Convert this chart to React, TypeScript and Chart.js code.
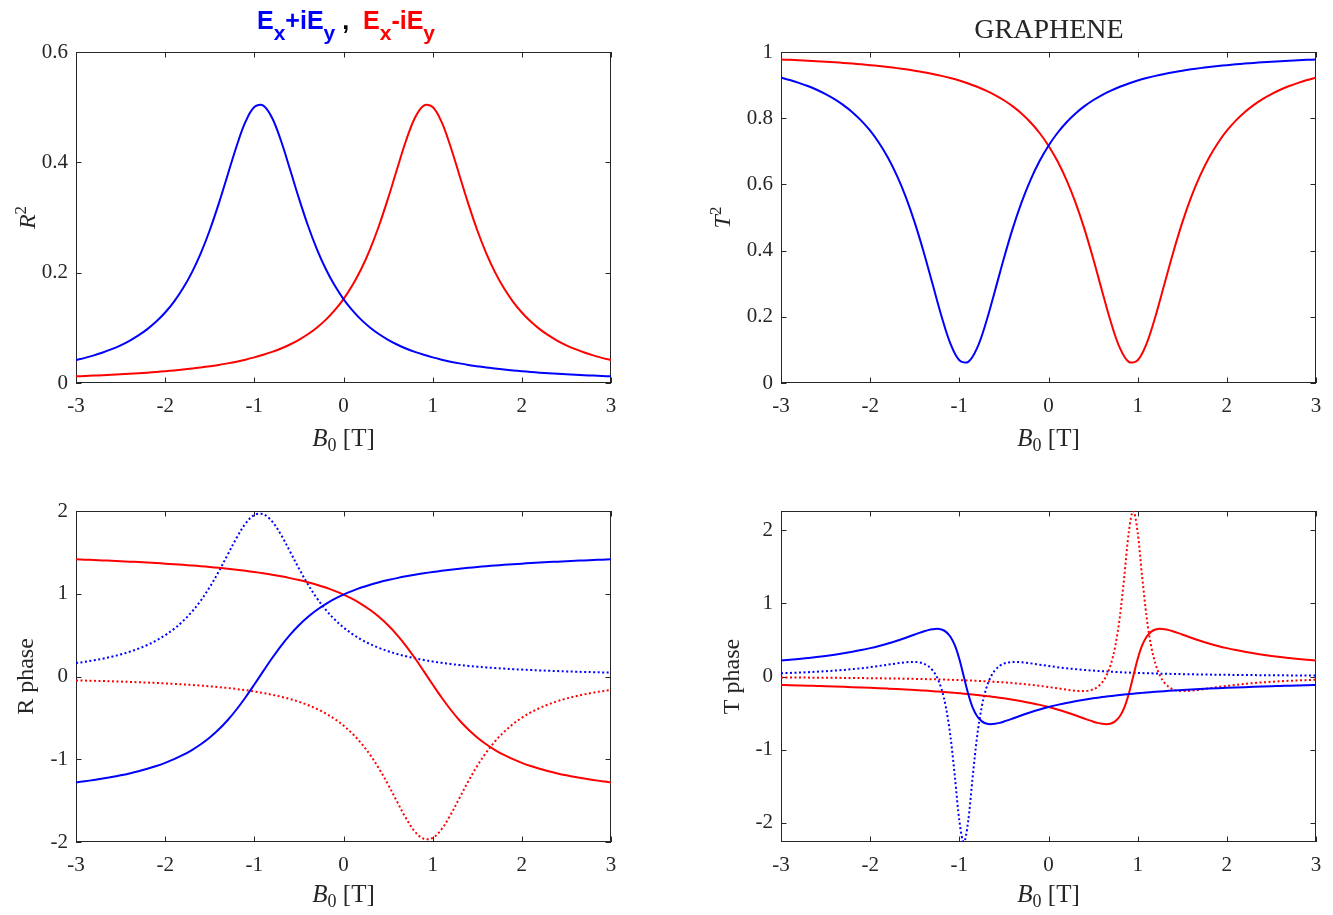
import { useEffect, useRef } from "react"
import { Chart, registerables } from "chart.js"

Chart.register(...registerables)

const BLUE = "#0000ff"
const RED = "#ff0000"
const AXIS = "#262626"
const SERIF = '"Liberation Serif", "Times New Roman", serif'
const SANS = '"Liberation Sans", Arial, sans-serif'
const TICK_LEN = 5.5

// B0 sample grid for the smooth panels
const B_GRID = [
  -3.0, -2.9, -2.8, -2.7, -2.6, -2.5, -2.4, -2.3, -2.2, -2.1,
  -2.0, -1.9, -1.8, -1.7, -1.6, -1.5, -1.4, -1.3, -1.2, -1.1,
  -1.0, -0.9, -0.8, -0.7, -0.6, -0.5, -0.4, -0.3, -0.2, -0.1,
  0.0,
  0.1, 0.2, 0.3, 0.4, 0.5, 0.6, 0.7, 0.8, 0.9, 1.0,
  1.1, 1.2, 1.3, 1.4, 1.5, 1.6, 1.7, 1.8, 1.9, 2.0,
  2.1, 2.2, 2.3, 2.4, 2.5, 2.6, 2.7, 2.8, 2.9, 3.0,
]

// R^2, Ex+iEy (blue) and Ex-iEy (red)
const R2_PLUS = [
  0.0416, 0.0456, 0.0500, 0.0553, 0.0613, 0.0683, 0.0765, 0.0862, 0.0977, 0.1114,
  0.1278, 0.1476, 0.1716, 0.2006, 0.2355, 0.2769, 0.3246, 0.3767, 0.4288, 0.4732,
  0.5003, 0.5029, 0.4803, 0.4386, 0.3874, 0.3348, 0.2859, 0.2433, 0.2071, 0.1770,
  0.1521,
  0.1315, 0.1144, 0.1002, 0.0883, 0.0783, 0.0698, 0.0626, 0.0564, 0.0511, 0.0464,
  0.0423, 0.0387, 0.0356, 0.0328, 0.0304, 0.0281, 0.0262, 0.0244, 0.0228, 0.0213,
  0.0200, 0.0188, 0.0177, 0.0167, 0.0158, 0.0149, 0.0141, 0.0134, 0.0127, 0.0121,
]
const R2_MINUS = [
  0.0121, 0.0127, 0.0134, 0.0141, 0.0149, 0.0158, 0.0167, 0.0177, 0.0188, 0.0200,
  0.0213, 0.0228, 0.0244, 0.0262, 0.0281, 0.0304, 0.0328, 0.0356, 0.0387, 0.0423,
  0.0464, 0.0511, 0.0564, 0.0626, 0.0698, 0.0783, 0.0883, 0.1002, 0.1144, 0.1315,
  0.1521,
  0.1770, 0.2071, 0.2433, 0.2859, 0.3348, 0.3874, 0.4386, 0.4803, 0.5029, 0.5003,
  0.4732, 0.4288, 0.3767, 0.3246, 0.2769, 0.2355, 0.2006, 0.1716, 0.1476, 0.1278,
  0.1114, 0.0977, 0.0862, 0.0765, 0.0683, 0.0613, 0.0553, 0.0500, 0.0456, 0.0416,
]

// T^2
const T2_PLUS = [
  0.9226, 0.9152, 0.9068, 0.8972, 0.8859, 0.8728, 0.8576, 0.8395, 0.8182, 0.7927,
  0.7622, 0.7252, 0.6806, 0.6265, 0.5616, 0.4846, 0.3959, 0.2988, 0.2018, 0.1192,
  0.0688, 0.0639, 0.1061, 0.1835, 0.2789, 0.3769, 0.4678, 0.5472, 0.6145, 0.6706,
  0.7170,
  0.7553, 0.7871, 0.8135, 0.8356, 0.8542, 0.8700, 0.8834, 0.8950, 0.9050, 0.9137,
  0.9212, 0.9279, 0.9337, 0.9389, 0.9435, 0.9476, 0.9513, 0.9546, 0.9576, 0.9603,
  0.9628, 0.9650, 0.9671, 0.9690, 0.9707, 0.9723, 0.9738, 0.9751, 0.9763, 0.9774,
]
const T2_MINUS = [
  0.9774, 0.9763, 0.9751, 0.9738, 0.9723, 0.9707, 0.9690, 0.9671, 0.9650, 0.9628,
  0.9603, 0.9576, 0.9546, 0.9513, 0.9476, 0.9435, 0.9389, 0.9337, 0.9279, 0.9212,
  0.9137, 0.9050, 0.8950, 0.8834, 0.8700, 0.8542, 0.8356, 0.8135, 0.7871, 0.7553,
  0.7170,
  0.6706, 0.6145, 0.5472, 0.4678, 0.3769, 0.2789, 0.1835, 0.1061, 0.0639, 0.0688,
  0.1192, 0.2018, 0.2988, 0.3959, 0.4846, 0.5616, 0.6265, 0.6806, 0.7252, 0.7622,
  0.7927, 0.8182, 0.8395, 0.8576, 0.8728, 0.8859, 0.8972, 0.9068, 0.9152, 0.9226,
]

// R phase: solid and dotted
const RPH_PLUS = [
  -1.2799, -1.2657, -1.2504, -1.2336, -1.2151, -1.1943, -1.1712, -1.1451, -1.1154, -1.0820,
  -1.0434, -0.9994, -0.9484, -0.8885, -0.8191, -0.7370, -0.6406, -0.5288, -0.3988, -0.2537,
  -0.0969, 0.0647, 0.2231, 0.3714, 0.5035, 0.6193, 0.7190, 0.8037, 0.8758, 0.9378,
  0.9896,
  1.0352, 1.0750, 1.1094, 1.1391, 1.1654, 1.1890, 1.2106, 1.2300, 1.2472, 1.2628,
  1.2771, 1.2902, 1.3020, 1.3130, 1.3231, 1.3325, 1.3412, 1.3493, 1.3568, 1.3639,
  1.3705, 1.3768, 1.3826, 1.3882, 1.3933, 1.3982, 1.4029, 1.4073, 1.4115, 1.4155,
]
const RPH_MINUS = [
  1.4155, 1.4115, 1.4073, 1.4029, 1.3982, 1.3933, 1.3882, 1.3826, 1.3768, 1.3705,
  1.3639, 1.3568, 1.3493, 1.3412, 1.3325, 1.3231, 1.3130, 1.3020, 1.2902, 1.2771,
  1.2628, 1.2472, 1.2300, 1.2106, 1.1890, 1.1654, 1.1391, 1.1094, 1.0750, 1.0352,
  0.9896,
  0.9378, 0.8758, 0.8037, 0.7190, 0.6193, 0.5035, 0.3714, 0.2231, 0.0647, -0.0969,
  -0.2537, -0.3988, -0.5288, -0.6406, -0.7370, -0.8191, -0.8885, -0.9484, -0.9994, -1.0434,
  -1.0820, -1.1154, -1.1451, -1.1712, -1.1943, -1.2151, -1.2336, -1.2504, -1.2657, -1.2799,
]
const RPH_PLUS_DOT = [
  0.1621, 0.1777, 0.1952, 0.2155, 0.2392, 0.2665, 0.2985, 0.3363, 0.3810, 0.4344,
  0.4984, 0.5758, 0.6694, 0.7827, 0.9188, 1.0802, 1.2661, 1.4696, 1.6729, 1.8459,
  1.9515, 1.9617, 1.8735, 1.7111, 1.5112, 1.3059, 1.1154, 0.9489, 0.8079, 0.6903,
  0.5932,
  0.5128, 0.4462, 0.3908, 0.3446, 0.3055, 0.2725, 0.2443, 0.2200, 0.1992, 0.1808,
  0.1651, 0.1511, 0.1389, 0.1281, 0.1184, 0.1097, 0.1020, 0.0952, 0.0888, 0.0831,
  0.0780, 0.0733, 0.0690, 0.0650, 0.0615, 0.0581, 0.0550, 0.0522, 0.0496, 0.0473,
]
const RPH_MINUS_DOT = [
  -0.0473, -0.0496, -0.0522, -0.0550, -0.0581, -0.0615, -0.0650, -0.0690, -0.0733, -0.0780,
  -0.0831, -0.0888, -0.0952, -0.1020, -0.1097, -0.1184, -0.1281, -0.1389, -0.1511, -0.1651,
  -0.1808, -0.1992, -0.2200, -0.2443, -0.2725, -0.3055, -0.3446, -0.3908, -0.4462, -0.5128,
  -0.5932,
  -0.6903, -0.8079, -0.9489, -1.1154, -1.3059, -1.5112, -1.7111, -1.8735, -1.9617, -1.9515,
  -1.8459, -1.6729, -1.4696, -1.2661, -1.0802, -0.9188, -0.7827, -0.6694, -0.5758, -0.4984,
  -0.4344, -0.3810, -0.3363, -0.2985, -0.2665, -0.2392, -0.2155, -0.1952, -0.1777, -0.1621,
]

// finer B0 grid for the T phase panel (sharp features near +-0.95 T)
const B_FINE = [
  -3.0, -2.9, -2.8, -2.7, -2.6, -2.5, -2.4, -2.3, -2.2, -2.1, -2.0, -1.9, -1.8, -1.7, -1.6, -1.5,
  -1.45, -1.4, -1.35, -1.3, -1.25, -1.2, -1.15, -1.1, -1.05, -1.0, -0.95, -0.9, -0.85, -0.8,
  -0.75, -0.7, -0.65, -0.6, -0.55, -0.5, -0.45,
  -0.4, -0.3, -0.2, -0.1, 0.0, 0.1, 0.2, 0.3, 0.4,
  0.45, 0.5, 0.55, 0.6, 0.65, 0.7, 0.75, 0.8, 0.85, 0.9, 0.95, 1.0, 1.05, 1.1,
  1.15, 1.2, 1.25, 1.3, 1.35, 1.4, 1.45,
  1.5, 1.6, 1.7, 1.8, 1.9, 2.0, 2.1, 2.2, 2.3, 2.4, 2.5, 2.6, 2.7, 2.8, 2.9, 3.0,
]

const TPH_PLUS = [
  0.2188, 0.2294, 0.2406, 0.2530, 0.2663, 0.2818, 0.2985, 0.3172, 0.3383, 0.3619, 0.3885, 0.4186, 0.4521, 0.4897, 0.5311, 0.5748,
  0.5964, 0.6169, 0.6350, 0.6476, 0.6520, 0.6427, 0.6108, 0.5436, 0.4246, 0.2390, 0.0000, -0.2390, -0.4246, -0.5436,
  -0.6108, -0.6427, -0.6520, -0.6476, -0.6350, -0.6169, -0.5964,
  -0.5748, -0.5311, -0.4897, -0.4521, -0.4186, -0.3885, -0.3619, -0.3383, -0.3172,
  -0.3076, -0.2985, -0.2903, -0.2818, -0.2740, -0.2663, -0.2598, -0.2530, -0.2465, -0.2406, -0.2348, -0.2294, -0.2241, -0.2188,
  -0.2140, -0.2093, -0.2049, -0.2006, -0.1965, -0.1926, -0.1889,
  -0.1852, -0.1783, -0.1718, -0.1659, -0.1603, -0.1550, -0.1501, -0.1455, -0.1411, -0.1370, -0.1331, -0.1296, -0.1260, -0.1228, -0.1197, -0.1167,
]
const TPH_MINUS = [
  -0.1167, -0.1197, -0.1228, -0.1260, -0.1296, -0.1331, -0.1370, -0.1411, -0.1455, -0.1501, -0.1550, -0.1603, -0.1659, -0.1718, -0.1783, -0.1852,
  -0.1889, -0.1926, -0.1965, -0.2006, -0.2049, -0.2093, -0.2140, -0.2188, -0.2241, -0.2294, -0.2348, -0.2406, -0.2465, -0.2530,
  -0.2598, -0.2663, -0.2740, -0.2818, -0.2903, -0.2985, -0.3076,
  -0.3172, -0.3383, -0.3619, -0.3885, -0.4186, -0.4521, -0.4897, -0.5311, -0.5748,
  -0.5964, -0.6169, -0.6350, -0.6476, -0.6520, -0.6427, -0.6108, -0.5436, -0.4246, -0.2390, 0.0000, 0.2390, 0.4246, 0.5436,
  0.6108, 0.6427, 0.6520, 0.6476, 0.6350, 0.6169, 0.5964,
  0.5748, 0.5311, 0.4897, 0.4521, 0.4186, 0.3885, 0.3619, 0.3383, 0.3172, 0.2985, 0.2818, 0.2663, 0.2530, 0.2406, 0.2294, 0.2188,
]
const TPH_PLUS_DOT = [
  0.0449, 0.0490, 0.0537, 0.0591, 0.0653, 0.0723, 0.0805, 0.0899, 0.1009, 0.1135, 0.1278, 0.1443, 0.1618, 0.1796, 0.1948, 0.1992,
  0.1928, 0.1762, 0.1434, 0.0854, -0.0118, -0.1705, -0.4241, -0.8159, -1.3691, -1.9734, -2.2650, -1.9734, -1.3691, -0.8159,
  -0.4241, -0.1705, -0.0118, 0.0854, 0.1434, 0.1762, 0.1928,
  0.1992, 0.1948, 0.1796, 0.1618, 0.1443, 0.1278, 0.1135, 0.1009, 0.0899,
  0.0850, 0.0805, 0.0763, 0.0723, 0.0687, 0.0653, 0.0621, 0.0591, 0.0563, 0.0537, 0.0513, 0.0490, 0.0469, 0.0449,
  0.0430, 0.0412, 0.0395, 0.0380, 0.0364, 0.0351, 0.0338,
  0.0325, 0.0301, 0.0281, 0.0262, 0.0245, 0.0230, 0.0216, 0.0203, 0.0191, 0.0180, 0.0171, 0.0161, 0.0153, 0.0145, 0.0138, 0.0131,
]
const TPH_MINUS_DOT = [
  -0.0131, -0.0138, -0.0145, -0.0153, -0.0161, -0.0171, -0.0180, -0.0191, -0.0203, -0.0216, -0.0230, -0.0245, -0.0262, -0.0281, -0.0301, -0.0325,
  -0.0338, -0.0351, -0.0364, -0.0380, -0.0395, -0.0412, -0.0430, -0.0449, -0.0469, -0.0490, -0.0513, -0.0537, -0.0563, -0.0591,
  -0.0621, -0.0653, -0.0687, -0.0723, -0.0763, -0.0805, -0.0850,
  -0.0899, -0.1009, -0.1135, -0.1278, -0.1443, -0.1618, -0.1796, -0.1948, -0.1992,
  -0.1928, -0.1762, -0.1434, -0.0854, 0.0118, 0.1705, 0.4241, 0.8159, 1.3691, 1.9734, 2.2650, 1.9734, 1.3691, 0.8159,
  0.4241, 0.1705, 0.0118, -0.0854, -0.1434, -0.1762, -0.1928,
  -0.1992, -0.1948, -0.1796, -0.1618, -0.1443, -0.1278, -0.1135, -0.1009, -0.0899, -0.0805, -0.0723, -0.0653, -0.0591, -0.0537, -0.0490, -0.0449,
]

type Seg = { text: string; italic?: boolean; bold?: boolean; small?: boolean; shift?: number; color?: string }
type RichText = { segs: Seg[]; x: number; y: number; size: number; subSize: number; family: string; rotate?: boolean }

function drawRich(ctx: CanvasRenderingContext2D, r: RichText) {
  ctx.save()
  ctx.translate(r.x, r.y)
  if (r.rotate) ctx.rotate(-Math.PI / 2)
  const fontOf = (s: Seg) =>
    `${s.italic ? "italic " : ""}${s.bold ? "bold " : ""}${s.small ? r.subSize : r.size}px ${r.family}`
  const widths = r.segs.map((s) => {
    ctx.font = fontOf(s)
    return ctx.measureText(s.text).width
  })
  let x = -widths.reduce((a, b) => a + b, 0) / 2
  ctx.textAlign = "left"
  ctx.textBaseline = "alphabetic"
  const base = r.size * 0.34
  r.segs.forEach((s, i) => {
    ctx.font = fontOf(s)
    ctx.fillStyle = s.color || AXIS
    ctx.fillText(s.text, x, base + (s.shift || 0))
    x += widths[i]
  })
  ctx.restore()
}

// box + inward ticks on all four sides (MATLAB style), and the rich-text labels
function makeFramePlugin(texts: RichText[]) {
  return {
    id: "matlabFrame",
    beforeDatasetsDraw(chart: any) {
      const { ctx, chartArea: a, scales } = chart
      ctx.save()
      ctx.strokeStyle = AXIS
      ctx.lineWidth = 1
      ctx.beginPath()
      scales.x.ticks.forEach((t: any) => {
        const px = Math.round(scales.x.getPixelForValue(t.value)) + 0.5
        ctx.moveTo(px, a.bottom)
        ctx.lineTo(px, a.bottom - TICK_LEN)
        ctx.moveTo(px, a.top)
        ctx.lineTo(px, a.top + TICK_LEN)
      })
      scales.y.ticks.forEach((t: any) => {
        const py = Math.round(scales.y.getPixelForValue(t.value)) + 0.5
        ctx.moveTo(a.left, py)
        ctx.lineTo(a.left + TICK_LEN, py)
        ctx.moveTo(a.right, py)
        ctx.lineTo(a.right - TICK_LEN, py)
      })
      ctx.stroke()
      ctx.strokeRect(a.left + 0.5, a.top + 0.5, a.right - a.left - 1, a.bottom - a.top - 1)
      ctx.restore()
    },
    afterDraw(chart: any) {
      texts.forEach((t) => drawRich(chart.ctx, t))
    },
  }
}

type Series = { values: number[]; color: string; dotted?: boolean }
type Box = { left: number; top: number; width: number; height: number }
type Area = { left: number; top: number; right: number; bottom: number }

interface PanelProps {
  box: Box
  plot: Area
  xs: number[]
  series: Series[]
  yMin: number
  yMax: number
  yStep: number
  monotone?: boolean
  texts: RichText[]
}

// MATLAB-like tick text: 0, 0.2, 1, -2 (no trailing zeros)
const tickText = (v: number | string) => String(Math.round(Number(v) * 100) / 100)

function Panel({ box, plot, xs, series, yMin, yMax, yStep, monotone, texts }: PanelProps) {
  const canvasRef = useRef<HTMLCanvasElement>(null)
  const chartInstance = useRef<Chart | null>(null)

  useEffect(() => {
    if (!canvasRef.current) return
    if (chartInstance.current) chartInstance.current.destroy()
    const ctx = canvasRef.current.getContext("2d")
    if (!ctx) return

    const yAxisW = plot.left - box.left
    const rightPad = box.left + box.width - plot.right
    const topPad = plot.top - box.top
    const xAxisH = box.top + box.height - plot.bottom
    const local = texts.map((t) => ({ ...t, x: t.x - box.left, y: t.y - box.top }))
    const tickFont = { family: SERIF, size: 21 }

    const chartConfig: any = {
      type: "line",
      data: {
        datasets: series.map((s) => ({
          data: xs.map((x, i) => ({ x, y: s.values[i] })),
          borderColor: s.color,
          borderWidth: 2,
          borderDash: s.dotted ? [2, 2.5] : [],
          pointRadius: 0,
          fill: false,
          tension: 0.35,
          cubicInterpolationMode: monotone ? "monotone" : "default",
        })),
      },
      options: {
        animation: false,
        responsive: false,
        layout: { padding: { top: topPad, right: rightPad, left: 0, bottom: 0 } },
        plugins: {
          legend: { display: false },
          tooltip: { enabled: false },
        },
        scales: {
          x: {
            type: "linear",
            min: -3,
            max: 3,
            grid: { display: false, drawTicks: false },
            border: { display: false },
            ticks: { stepSize: 1, padding: 11, color: AXIS, font: tickFont, maxRotation: 0, includeBounds: false, callback: tickText },
            afterFit: (s: any) => {
              s.height = xAxisH
            },
          },
          y: {
            type: "linear",
            min: yMin,
            max: yMax,
            grid: { display: false, drawTicks: false },
            border: { display: false },
            ticks: { stepSize: yStep, padding: 8, color: AXIS, font: tickFont, includeBounds: false, callback: tickText },
            afterFit: (s: any) => {
              s.width = yAxisW
            },
          },
        },
      },
      plugins: [makeFramePlugin(local)],
    }

    chartInstance.current = new Chart(ctx, chartConfig)

    return () => {
      if (chartInstance.current) {
        chartInstance.current.destroy()
        chartInstance.current = null
      }
    }
  }, [box, plot, xs, series, yMin, yMax, yStep, monotone, texts])

  return (
    <div style={{ position: "absolute", left: box.left, top: box.top, width: box.width, height: box.height }}>
      <canvas ref={canvasRef} width={box.width} height={box.height} style={{ width: box.width, height: box.height }} />
    </div>
  )
}

const xLabel = (x: number, y: number): RichText => ({
  segs: [{ text: "B", italic: true }, { text: "0", small: true, shift: 5 }, { text: " [T]" }],
  x,
  y,
  size: 25,
  subSize: 18,
  family: SERIF,
})

const yLabel = (segs: Seg[], x: number, y: number): RichText => ({ segs, x, y, size: 24, subSize: 17, family: SERIF, rotate: true })

const PANELS: PanelProps[] = [
  {
    box: { left: 0, top: 0, width: 690, height: 460 },
    plot: { left: 76, top: 52, right: 611, bottom: 383 },
    xs: B_GRID,
    series: [
      { values: R2_PLUS, color: BLUE },
      { values: R2_MINUS, color: RED },
    ],
    yMin: 0,
    yMax: 0.6,
    yStep: 0.2,
    texts: [
      xLabel(343.5, 437),
      yLabel([{ text: "R", italic: true }, { text: "2", small: true, shift: -9 }], 27, 217.5),
      {
        segs: [
          { text: "E", bold: true, color: BLUE },
          { text: "x", bold: true, small: true, shift: 11, color: BLUE },
          { text: "+iE", bold: true, color: BLUE },
          { text: "y", bold: true, small: true, shift: 11, color: BLUE },
          { text: " ,  ", bold: true, color: "#000000" },
          { text: "E", bold: true, color: RED },
          { text: "x", bold: true, small: true, shift: 11, color: RED },
          { text: "-iE", bold: true, color: RED },
          { text: "y", bold: true, small: true, shift: 11, color: RED },
        ],
        x: 346,
        y: 20.5,
        size: 25,
        subSize: 21,
        family: SANS,
      },
    ],
  },
  {
    box: { left: 690, top: 0, width: 643, height: 460 },
    plot: { left: 781, top: 52, right: 1316, bottom: 383 },
    xs: B_GRID,
    series: [
      { values: T2_PLUS, color: BLUE },
      { values: T2_MINUS, color: RED },
    ],
    yMin: 0,
    yMax: 1,
    yStep: 0.2,
    texts: [
      xLabel(1048.5, 437),
      yLabel([{ text: "T", italic: true }, { text: "2", small: true, shift: -9 }], 722, 217.5),
      { segs: [{ text: "GRAPHENE" }], x: 1049, y: 28, size: 28, subSize: 19, family: SERIF },
    ],
  },
  {
    box: { left: 0, top: 460, width: 690, height: 455 },
    plot: { left: 76, top: 511, right: 611, bottom: 842 },
    xs: B_GRID,
    series: [
      { values: RPH_PLUS, color: BLUE },
      { values: RPH_MINUS, color: RED },
      { values: RPH_PLUS_DOT, color: BLUE, dotted: true },
      { values: RPH_MINUS_DOT, color: RED, dotted: true },
    ],
    yMin: -2,
    yMax: 2,
    yStep: 1,
    texts: [xLabel(343.5, 893), yLabel([{ text: "R phase" }], 25, 676.5)],
  },
  {
    box: { left: 690, top: 460, width: 643, height: 455 },
    plot: { left: 781, top: 511, right: 1316, bottom: 842 },
    xs: B_FINE,
    series: [
      { values: TPH_PLUS, color: BLUE },
      { values: TPH_MINUS, color: RED },
      { values: TPH_PLUS_DOT, color: BLUE, dotted: true },
      { values: TPH_MINUS_DOT, color: RED, dotted: true },
    ],
    yMin: -2.265,
    yMax: 2.265,
    yStep: 1,
    monotone: true,
    texts: [xLabel(1048.5, 893), yLabel([{ text: "T phase" }], 731, 676.5)],
  },
]

export default function App() {
  return (
    <div style={{ position: "absolute", left: 0, top: 0, width: 1333, height: 915, background: "#ffffff" }}>
      {PANELS.map((p, i) => (
        <Panel key={i} {...p} />
      ))}
    </div>
  )
}
